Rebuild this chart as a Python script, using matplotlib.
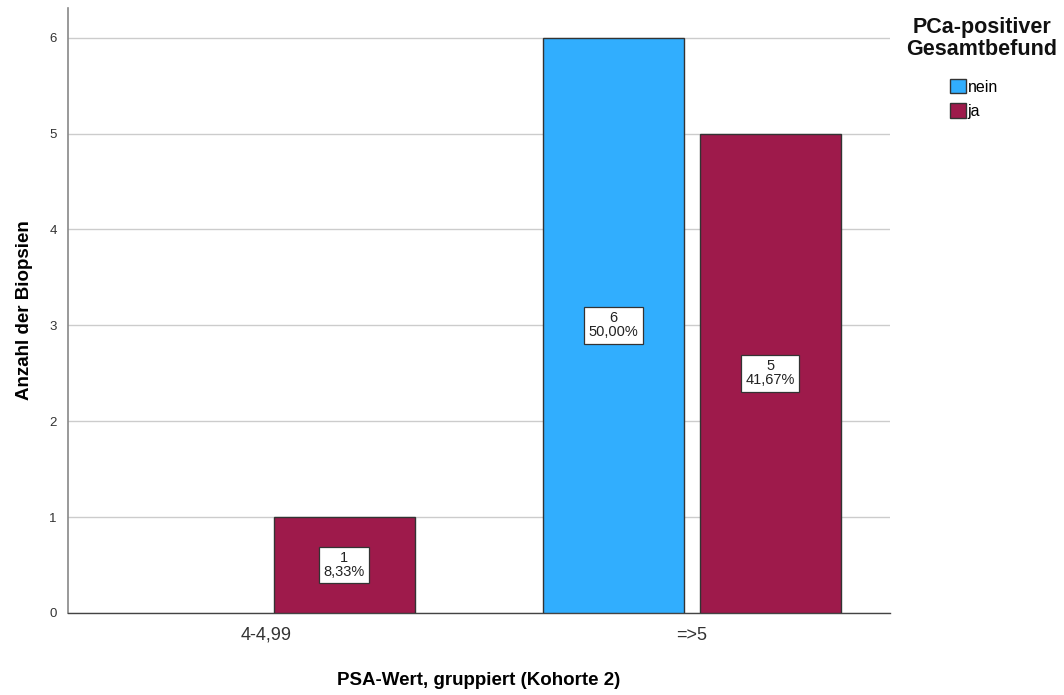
import matplotlib
matplotlib.use("Agg")
import matplotlib.pyplot as plt
from matplotlib.patches import Patch
import numpy as np

plt.rcParams['font.family'] = ['Liberation Sans', 'DejaVu Sans']

categories = ["4-4,99", "=>5"]
series_names = ["nein", "ja"]
counts = {
    "nein": [0, 6],
    "ja": [1, 5],
}
percent_labels = {
    "nein": [None, "50,00%"],
    "ja": ["8,33%", "41,67%"],
}
colors = {"nein": "#31aefe", "ja": "#9e1a4b"}

fig = plt.figure(figsize=(10.64, 6.95), dpi=100)
ax = fig.add_axes([0.0639, 0.118, 0.7726, 0.8705])

x = np.arange(len(categories))
width = 0.331
offsets = {"nein": -0.184, "ja": 0.184}

for name in series_names:
    vals = counts[name]
    for xi, v, pct in zip(x, vals, percent_labels[name]):
        if v <= 0:
            continue
        ax.bar(xi + offsets[name], v, width=width, color=colors[name],
               edgecolor="#333333", linewidth=1.0, zorder=3)
        ax.text(xi + offsets[name], v / 2, f"{v}\n{pct}", ha="center", va="center",
                fontsize=10.5, linespacing=1.0, zorder=4, color="#222222",
                bbox=dict(boxstyle="square,pad=0.3", facecolor="white",
                          edgecolor="#333333", linewidth=0.9))

ax.set_xlim(-0.465, 1.465)
ax.set_ylim(0, 6.31)
ax.set_yticks(range(0, 7))
ax.set_xticks(x)
ax.set_xticklabels(categories, fontsize=13, color="#333333")
ax.tick_params(axis="y", labelsize=9.5, colors="#333333", length=0, pad=8)
ax.tick_params(axis="x", length=0, pad=10)
ax.yaxis.grid(True, color="#cccccc", linewidth=1.0, zorder=0)
ax.set_axisbelow(True)

for s in ["top", "right"]:
    ax.spines[s].set_visible(False)
ax.spines["left"].set_color("#888888")
ax.spines["bottom"].set_color("#444444")
ax.spines["left"].set_linewidth(1.2)
ax.spines["bottom"].set_linewidth(1.0)

ax.set_ylabel("Anzahl der Biopsien", fontsize=13.5, fontweight="bold", labelpad=12)
ax.set_xlabel("PSA-Wert, gruppiert (Kohorte 2)", fontsize=13.5, fontweight="bold", labelpad=20)

# legend title and entries
fig.text(982 / 1064, 1 - 17 / 695, "PCa-positiver\nGesamtbefund", ha="center", va="top",
         fontsize=15.5, fontweight="bold", linespacing=1.05, color="#111111")
handles = [Patch(facecolor=colors[n], edgecolor="#333333", label=n) for n in series_names]
fig.legend(handles=handles, loc="upper left", bbox_to_anchor=(950 / 1064, 1 - 79 / 695),
           frameon=False, fontsize=11.5, handlelength=1.0, handleheight=1.0,
           handletextpad=0.1, labelspacing=0.55, borderaxespad=0, borderpad=0)

fig.savefig("out.png", dpi=100)
